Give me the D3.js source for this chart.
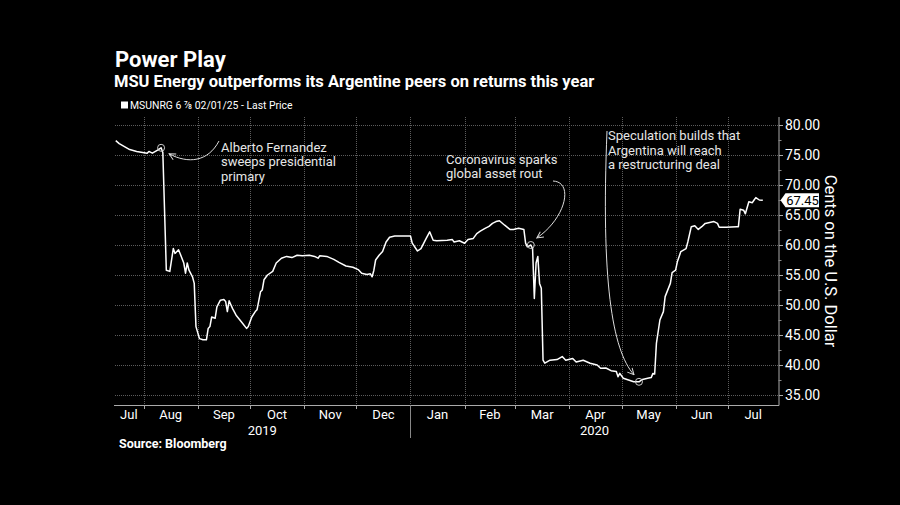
<!DOCTYPE html>
<html><head><meta charset="utf-8">
<script src="https://cdn.jsdelivr.net/npm/d3@7/dist/d3.min.js"></script>
<style>
body{margin:0;background:#000;}
svg{display:block;font-family:Roboto,"Liberation Sans",sans-serif;}
</style>
</head><body>
<svg id="chart" width="900" height="505"></svg>
<script>
// ---------- DATA ----------
const dates = [
"2019-07-16","2019-07-18","2019-07-21","2019-07-24","2019-07-28","2019-08-03","2019-08-04","2019-08-06","2019-08-09","2019-08-11",
"2019-08-12","2019-08-14","2019-08-16","2019-08-18","2019-08-19","2019-08-21","2019-08-22","2019-08-24","2019-08-25","2019-08-26",
"2019-08-27","2019-08-29","2019-08-30","2019-08-31","2019-09-02","2019-09-04","2019-09-06","2019-09-07","2019-09-08","2019-09-09",
"2019-09-11","2019-09-12","2019-09-14","2019-09-16","2019-09-17","2019-09-18","2019-09-19","2019-09-21","2019-09-23","2019-09-26",
"2019-09-29","2019-09-30","2019-10-02","2019-10-04","2019-10-05","2019-10-07","2019-10-08","2019-10-09","2019-10-11","2019-10-14",
"2019-10-16","2019-10-19","2019-10-22","2019-10-25","2019-10-28","2019-10-31","2019-11-04","2019-11-07","2019-11-09","2019-11-10",
"2019-11-14","2019-11-18","2019-11-21","2019-11-25","2019-11-29","2019-12-02","2019-12-04","2019-12-07","2019-12-09","2019-12-10",
"2019-12-11","2019-12-12","2019-12-14","2019-12-16","2019-12-18","2019-12-20","2019-12-23","2019-12-26","2020-01-01","2020-01-02",
"2020-01-05","2020-01-07","2020-01-10","2020-01-12","2020-01-14","2020-01-16","2020-01-22","2020-01-25","2020-01-26","2020-01-29",
"2020-02-01","2020-02-03","2020-02-06","2020-02-08","2020-02-10","2020-02-13","2020-02-15","2020-02-17","2020-02-19","2020-02-21",
"2020-02-24","2020-02-27","2020-02-29","2020-03-03","2020-03-06","2020-03-07","2020-03-08","2020-03-10","2020-03-11","2020-03-12",
"2020-03-13","2020-03-14","2020-03-15","2020-03-16","2020-03-17","2020-03-18","2020-03-21","2020-03-25","2020-03-28","2020-03-30",
"2020-04-03","2020-04-05","2020-04-09","2020-04-13","2020-04-17","2020-04-19","2020-04-22","2020-04-25","2020-04-28","2020-04-29",
"2020-04-30","2020-05-02","2020-05-05","2020-05-08","2020-05-11","2020-05-13","2020-05-16","2020-05-18","2020-05-19","2020-05-20",
"2020-05-21","2020-05-23","2020-05-25","2020-05-26","2020-05-29","2020-05-30","2020-06-01","2020-06-02","2020-06-04","2020-06-07",
"2020-06-08","2020-06-10","2020-06-12","2020-06-14","2020-06-16","2020-06-18","2020-06-23","2020-06-25","2020-06-26","2020-06-30",
"2020-07-06","2020-07-07","2020-07-08","2020-07-10","2020-07-11","2020-07-13","2020-07-15","2020-07-16","2020-07-17","2020-07-19",
"2020-07-21"
];
const prices = [
77.4,76.9,76.4,75.9,75.6,75.3,75.6,75.3,75.8,76.2,
75.4,55.8,55.6,59.4,58.6,59.2,58.5,57.0,55.3,57.0,
55.8,54.7,53.6,46.4,44.4,44.2,44.2,46.1,46.4,48.0,
47.8,49.7,50.8,50.9,50.6,48.9,50.7,49.4,48.3,47.2,
46.1,46.4,48.0,48.9,49.2,52.2,52.5,54.2,55.0,55.6,
57.0,57.8,58.1,57.9,58.3,58.2,58.3,58.1,57.8,58.2,
58.1,57.6,57.1,56.5,56.3,55.9,55.3,55.1,55.2,54.7,
55.8,57.5,58.3,58.9,60.5,61.3,61.5,61.5,61.5,60.3,
59.0,59.4,61.1,62.2,60.8,60.7,60.8,60.9,60.5,60.7,
60.3,60.9,61.1,61.9,62.3,62.8,63.1,63.6,63.9,64.05,
63.3,62.6,62.6,62.8,62.6,60.3,59.7,60.0,59.4,51.1,
57.0,58.1,53.6,52.8,40.8,40.3,40.8,40.9,41.4,40.8,
41.1,40.5,40.8,40.3,40.0,39.45,39.5,39.05,38.9,38.05,
38.6,37.8,37.5,37.2,37.2,37.6,37.8,37.9,38.6,38.5,
43.6,47.5,48.9,51.4,53.6,55.4,55.8,57.2,58.9,59.4,
60.5,63.05,63.2,62.6,63.05,63.6,63.9,63.6,62.95,62.95,
63.05,63.05,65.95,65.8,65.2,67.2,67.05,67.5,67.9,67.5,
67.45
];
const lastPrice = 67.45;
const yTicks = [35,40,45,50,55,60,65,70,75,80];
const monthNames = ["Jan","Feb","Mar","Apr","May","Jun","Jul","Aug","Sep","Oct","Nov","Dec"];
const years = [2019,2020];
const domainDates = ["2019-07-15","2020-07-30"];
const annoDates = ["2019-08-11","2020-03-10","2020-05-11"];
const annoValues = [76.2,60.0,37.2];
const annoTexts = [
  ["Alberto Fernandez","sweeps presidential","primary"],
  ["Coronavirus sparks","global asset rout"],
  ["Speculation builds that","Argentina will reach","a restructuring deal"]
];

// ---------- LAYOUT ----------
const parse = d3.timeParse("%Y-%m-%d");
const data = dates.map((d,i)=>({date:parse(d), value:prices[i]}));
const L = 114, R = 778.5, T = 117, B = 405;
const svg = d3.select("#chart");
svg.append("rect").attr("width",900).attr("height",505).attr("fill","#000");

const x = d3.scaleTime().domain(domainDates.map(parse)).range([L,R]);
const y = d3.scaleLinear().domain([35,80]).range([395,125]);

// title
svg.append("text").attr("x",115).attr("y",67).attr("fill","#fff")
  .attr("font-size",22).attr("font-weight",700).text("Power Play");
svg.append("text").attr("x",114).attr("y",87).attr("fill","#fff")
  .attr("font-size",16.5).attr("font-weight",700)
  .text("MSU Energy outperforms its Argentine peers on returns this year");
svg.append("rect").attr("x",121).attr("y",101.5).attr("width",7).attr("height",7).attr("fill","#fff");
svg.append("text").attr("x",130).attr("y",109).attr("fill","#fff").attr("font-size",10.4)
  .text("MSUNRG 6 \u215E 02/01/25 - Last Price");

// grid
const months = d3.timeMonth.range(d3.timeMonth.ceil(x.domain()[0]), x.domain()[1]);
const grid = svg.append("g");
grid.selectAll("line.h").data(yTicks).join("line")
  .attr("x1",L+1).attr("x2",R).attr("y1",d=>Math.round(y(d))+0.5).attr("y2",d=>Math.round(y(d))+0.5)
  .attr("stroke","#5c5c5c").attr("stroke-width",1).attr("stroke-dasharray","1,1");
grid.selectAll("line.v").data(months).join("line")
  .attr("x1",d=>Math.round(x(d))+0.5).attr("x2",d=>Math.round(x(d))+0.5).attr("y1",T).attr("y2",B)
  .attr("stroke","#5c5c5c").attr("stroke-width",1).attr("stroke-dasharray","1,1");

// axes lines
svg.append("line").attr("x1",L).attr("x2",R+0.5).attr("y1",B+0.5).attr("y2",B+0.5).attr("stroke","#aaa");
svg.append("line").attr("x1",R+0.5).attr("x2",R+0.5).attr("y1",T).attr("y2",B+0.5).attr("stroke","#aaa");

// y axis
const yAxis = d3.axisRight(y).tickValues(yTicks).tickFormat(d3.format(".2f")).tickSize(4).tickPadding(2);
const ya = svg.append("g").attr("transform",`translate(${R+0.5},0)`).call(yAxis);
ya.select(".domain").remove();
ya.selectAll("line").attr("stroke","#aaa");
ya.selectAll("text").attr("fill","#fff").attr("font-size",14).attr("font-family","Roboto");
// minor ticks
svg.append("g").selectAll("line").data(yTicks.slice(0,-1).map(v=>v+2.5)).join("line")
  .attr("x1",R).attr("x2",R+3).attr("y1",d=>Math.round(y(d))+0.5).attr("y2",d=>Math.round(y(d))+0.5).attr("stroke","#888");

// x ticks & labels
svg.append("g").selectAll("line").data(months).join("line")
  .attr("x1",d=>Math.round(x(d))+0.5).attr("x2",d=>Math.round(x(d))+0.5)
  .attr("y1",B).attr("y2",d=>d.getMonth()===0?438:409)
  .attr("stroke",d=>d.getMonth()===0?"#888":"#aaa");
const monthStarts = d3.timeMonth.range(d3.timeMonth.floor(x.domain()[0]), x.domain()[1]);
svg.append("g").selectAll("text").data(monthStarts).join("text")
  .attr("x",d=>{const a=Math.max(x(d),L), b=Math.min(x(d3.timeMonth.offset(d,1)),R); return (a+b)/2;})
  .attr("y",419).attr("text-anchor","middle").attr("fill","#fff").attr("font-size",13)
  .text(d=>monthNames[d.getMonth()]);
svg.append("g").selectAll("text").data(years).join("text")
  .attr("x",yr=>{const a=Math.max(x(new Date(yr,0,1)),L), b=Math.min(x(new Date(yr+1,0,1)),R); return (a+b)/2;})
  .attr("y",435).attr("text-anchor","middle").attr("fill","#fff").attr("font-size",13)
  .text(d=>String(d));

// axis title
svg.append("text").attr("transform","translate(825,261) rotate(90)")
  .attr("text-anchor","middle").attr("fill","#fff").attr("font-size",16.5)
  .text("Cents on the U.S. Dollar");

// line
const line = d3.line().x(d=>x(d.date)).y(d=>y(d.value));
svg.append("path").datum(data).attr("d",line).attr("fill","none")
  .attr("stroke","#fff").attr("stroke-width",1.5).attr("stroke-linejoin","round");

// last price tag
const ly = y(lastPrice);
svg.append("path").attr("d",`M${R+2},${ly} L${R+7},${ly-7} L${R+40.5},${ly-7} L${R+40.5},${ly+7} L${R+7},${ly+7} Z`).attr("fill","#fff");
svg.append("text").attr("x",R+24).attr("y",ly+4.7).attr("text-anchor","middle").attr("fill","#000")
  .attr("font-size",13).text(d3.format(".2f")(lastPrice));

// annotations
const defs = svg.append("defs");
defs.append("marker").attr("id","arr").attr("viewBox","0 0 10 10").attr("refX",9).attr("refY",5)
  .attr("markerWidth",8).attr("markerHeight",8).attr("orient","auto").attr("markerUnits","userSpaceOnUse")
  .append("path").attr("d","M1,1 L9,5 L1,9").attr("fill","none").attr("stroke","#ddd").attr("stroke-width",1.2);

const textPos = [[221,151.5],[446,163.5],[608,140]];
textPos.forEach((p,i)=>{
  const t = svg.append("text").attr("fill","#e6e6e6").attr("font-size",13);
  annoTexts[i].forEach((s,j)=>t.append("tspan").attr("x",p[0]).attr("y",p[1]+j*14.5).text(s));
});
const pts = annoDates.map((d,i)=>[x(parse(d)), y(annoValues[i])]);
svg.append("g").selectAll("circle").data(pts).join("circle")
  .attr("cx",d=>d[0]).attr("cy",d=>d[1]).attr("r",3.5).attr("fill","none").attr("stroke","#ccc").attr("stroke-width",1);
const p1=pts[0], p2=pts[1], p3=pts[2];
const arrows = [
  `M219,141 C208,162 188,164 ${p1[0]+8},${p1[1]+6}`,
  `M553,181 C574,182 566,218 ${p2[0]+6},${p2[1]-7}`,
  `M607,131 C601,280 612,350 ${p3[0]-5},${p3[1]-7}`
];
svg.append("g").selectAll("path").data(arrows).join("path").attr("d",d=>d)
  .attr("fill","none").attr("stroke","#ddd").attr("stroke-width",1).attr("marker-end","url(#arr)");

// source
svg.append("text").attr("x",119).attr("y",448).attr("fill","#fff").attr("font-size",12.5)
  .attr("font-weight",700).text("Source: Bloomberg");
</script>
</body></html>
